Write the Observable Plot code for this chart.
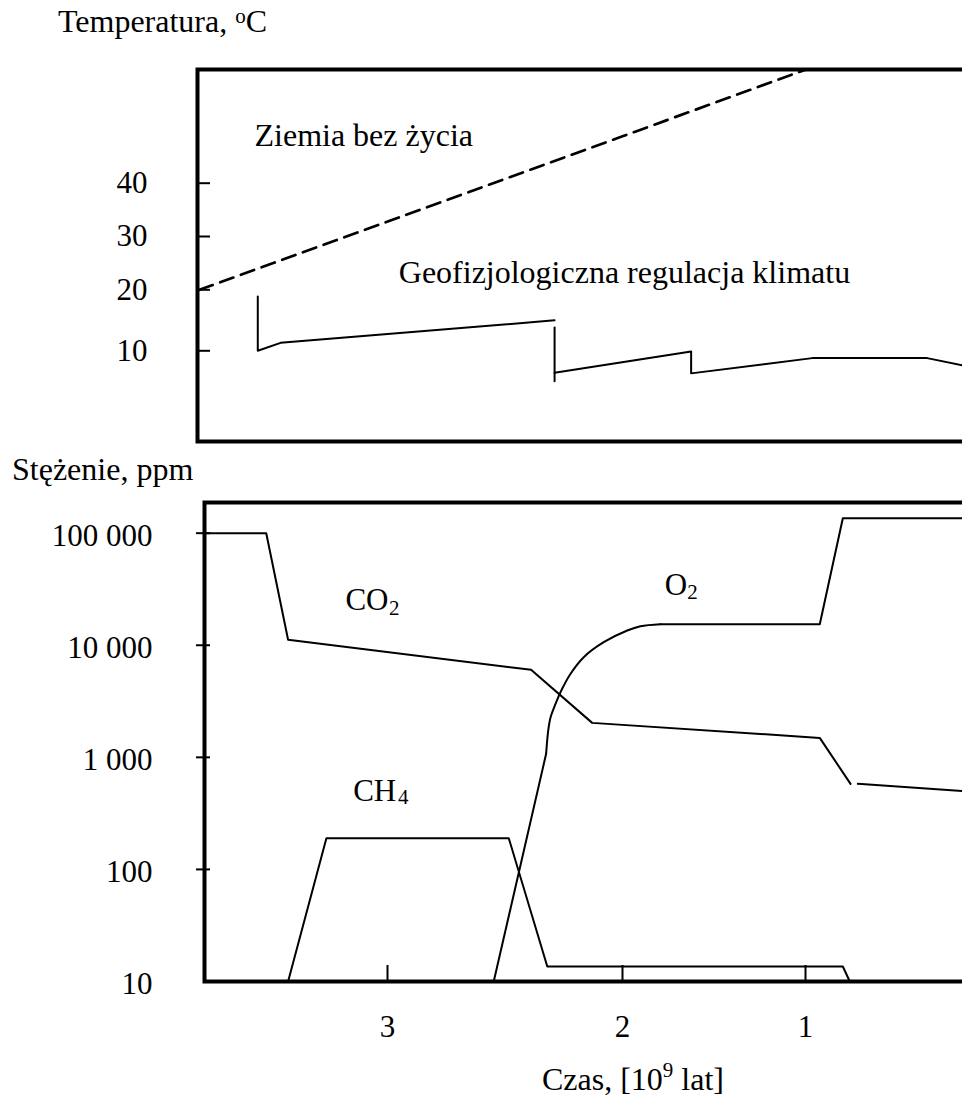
<!DOCTYPE html>
<html>
<head>
<meta charset="utf-8">
<script src="https://cdn.jsdelivr.net/npm/d3@7"></script>
<script src="https://cdn.jsdelivr.net/npm/@observablehq/plot@0.6"></script>
<style>
  html, body { margin: 0; padding: 0; background: #fff; overflow: hidden; }
  #wrap { position: relative; width: 962px; height: 1097px; font-family: "Liberation Serif", "Times New Roman", serif; color: #000; }
  #wrap svg { position: absolute; left: 0; }
  .t { position: absolute; z-index: 2; font-size: 32px; line-height: 32px; white-space: nowrap; }
  .sup { position: relative; font-size: 21px; }
</style>
</head>
<body>
<div id="wrap"></div>
<script>
// ---------- data (time in 10^9 years before present) ----------
const timeTicks = [3, 2, 1];
const tempTicks = [10, 20, 30, 40];
const concTicks = [10, 100, 1000, 10000, 100000];
const concTickMarks = [100, 1000, 10000, 100000];

// "Ziemia bez życia" (dashed)
const lifelessTime = [3.80, 2.00, 1.00];
const lifelessTemp = [20.0, 48.8, 61.3];

// "Geofizjologiczna regulacja klimatu" (solid, three pieces)
const regTime  = [3.552, 3.552, 3.455, 2.289,  2.289, 2.289,  2.289, 1.625, 1.625, 0.963, 0.335, 0.142];
const regTemp  = [18.9, 10.0, 11.3, 15.0,     13.8, 5.0,     6.4, 9.9, 6.3, 8.8, 8.8, 7.6];
const regPiece = [0, 0, 0, 0,                 1, 1,          2, 2, 2, 2, 2, 2];

// CO2, ppm
const co2Time  = [3.779, 3.516, 3.423, 2.389, 2.129, 0.922, 0.754,  0.714, 0.142];
const co2Value = [100000, 100000, 11200, 6040, 2030, 1490, 580,     580, 500];
const co2Piece = [0, 0, 0, 0, 0, 0, 0,                              1, 1];

// CH4, ppm
const ch4Time  = [3.423, 3.260, 2.484, 2.320, 0.796, 0.758];
const ch4Value = [10, 190, 190, 13.6, 13.6, 10];

// O2, ppm
const o2Time  = [2.548, 2.325, 2.316, 2.306, 2.285, 2.264, 2.221, 2.165, 2.080, 1.974, 1.902, 1.792, 0.922, 0.796, 0.142];
const o2Value = [10, 1075, 1740, 2280, 3000, 3810, 5570, 7830, 10650, 13550, 14790, 15410, 15410, 136100, 136100];

// labels
const tempLabelText = ["Ziemia bez życia", "Geofizjologiczna regulacja klimatu"];
const tempLabelTime = [3.566, 2.952];
const tempLabelTemp = [46.9, 21.3];

const gasLabelText  = ["CO", "O", "CH"];
const gasLabelTime  = [3.179, 1.769, 3.146];
const gasLabelValue = [20700, 27800, 406];
const gasSubText    = ["2", "2", "4"];
const gasSubTime    = [2.994, 1.646, 2.955];
const gasSubValue   = [18800, 26000, 385];

// ---------- build tables ----------
const zip = (keys, ...arrs) => arrs[0].map((_, i) => Object.fromEntries(keys.map((k, j) => [k, arrs[j][i]])));
const lifeless = zip(["t", "v"], lifelessTime, lifelessTemp);
const regulated = zip(["t", "v", "p"], regTime, regTemp, regPiece);
const co2 = zip(["t", "v", "p"], co2Time, co2Value, co2Piece);
const ch4 = zip(["t", "v"], ch4Time, ch4Value);
const o2 = zip(["t", "v"], o2Time, o2Value);
const o2Rise = o2.slice(0, 2), o2Arc = o2.slice(1, 12), o2Rest = o2.slice(11);
const tempLabels = zip(["t", "v", "text"], tempLabelTime, tempLabelTemp, tempLabelText);
const gasLabels = zip(["t", "v", "text"], gasLabelTime, gasLabelValue, gasLabelText);
const gasSubs = zip(["t", "v", "text"], gasSubTime, gasSubValue, gasSubText);

const fontStack = "'Liberation Serif', 'Times New Roman', serif";
const baseStyle = {fontFamily: fontStack, fontSize: "31px", color: "black", background: "white", overflow: "hidden"};
// hand-drawn axis: tick spacing is uneven, so the time scale is piecewise
const timeRange = [387, 622, 805];
const spaceFmt = d => d3.format(",")(d).replace(/,/g, " ");

const topPlot = Plot.plot({
  width: 962, height: 450,
  marginTop: 69, marginBottom: 9, marginLeft: 197, marginRight: 0,
  style: baseStyle,
  x: {type: "linear", domain: timeTicks, range: timeRange, axis: null},
  y: {type: "linear", domain: [10, 20, 40], range: [350.3, 289.3, 182.7]},
  marks: [
    Plot.frame({stroke: "black", strokeWidth: 4, insetRight: -10}),
    Plot.axisY(tempTicks, {tickSize: 13, dx: 13, strokeWidth: 2, tickFormat: () => "", label: null}),
    Plot.axisY(tempTicks, {tickSize: 0, tickPadding: 50, tickFormat: d => String(d), label: null}),
    Plot.line(lifeless, {x: "t", y: "v", stroke: "black", strokeWidth: 2.7, strokeDasharray: "14,8"}),
    Plot.line(regulated, {x: "t", y: "v", z: "p", stroke: "black", strokeWidth: 2}),
    Plot.text(tempLabels, {x: "t", y: "v", text: "text", textAnchor: "start", lineAnchor: "bottom", fontSize: 32})
  ]
});

const bottomPlot = Plot.plot({
  width: 962, height: 647,
  marginTop: 52, marginBottom: 116, marginLeft: 204, marginRight: 0,
  style: baseStyle,
  x: {type: "linear", domain: timeTicks, range: timeRange},
  y: {type: "log", domain: [10, 187800]},
  marks: [
    Plot.frame({stroke: "black", strokeWidth: 4, insetRight: -10}),
    Plot.axisY(concTickMarks, {tickSize: 14, dx: 6, strokeWidth: 2, tickFormat: () => "", label: null}),
    Plot.axisY(concTicks, {tickSize: 0, tickPadding: 52, dy: 3, tickFormat: spaceFmt, label: null}),
    Plot.axisX(timeTicks, {tickSize: 16, dy: -16, strokeWidth: 2, tickFormat: () => "", label: null}),
    Plot.axisX(timeTicks, {tickSize: 0, tickPadding: 33, tickFormat: d => String(d), label: null}),
    Plot.line(co2, {x: "t", y: "v", z: "p", stroke: "black", strokeWidth: 2}),
    Plot.line(ch4, {x: "t", y: "v", stroke: "black", strokeWidth: 2}),
    Plot.line(o2Rise, {x: "t", y: "v", stroke: "black", strokeWidth: 2}),
    Plot.line(o2Arc, {x: "t", y: "v", stroke: "black", strokeWidth: 2, curve: "catmull-rom"}),
    Plot.line(o2Rest, {x: "t", y: "v", stroke: "black", strokeWidth: 2}),
    Plot.text(gasLabels, {x: "t", y: "v", text: "text", textAnchor: "start", lineAnchor: "bottom", fontSize: 31}),
    Plot.text(gasSubs, {x: "t", y: "v", text: "text", textAnchor: "start", lineAnchor: "bottom", fontSize: 21})
  ]
});

const wrap = document.getElementById("wrap");
topPlot.style.top = "0px";
bottomPlot.style.top = "450px";
wrap.appendChild(topPlot);
wrap.appendChild(bottomPlot);

function addTitle(html, left, top) {
  const d = document.createElement("div");
  d.className = "t";
  d.style.left = left + "px";
  d.style.top = top + "px";
  d.innerHTML = html;
  wrap.appendChild(d);
}
addTitle('Temperatura, <span class="sup" style="top:-9px">o</span>C', 58, 5);
addTitle('Stężenie, ppm', 12, 453);
addTitle('Czas, [10<span class="sup" style="top:-13px">9</span> lat]', 542, 1063);
</script>
</body>
</html>
